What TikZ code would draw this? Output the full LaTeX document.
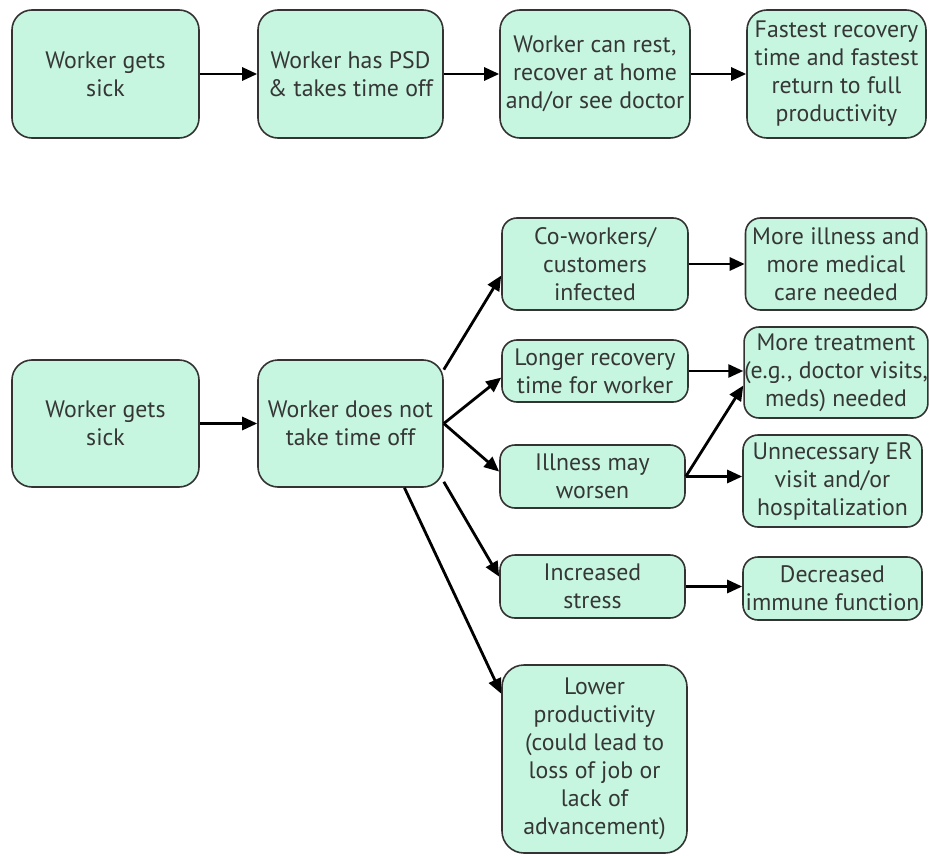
\documentclass[tikz,border=0pt]{standalone}
\usepackage{fontspec}
\setmainfont{PT Sans}
\usetikzlibrary{arrows.meta}
\definecolor{boxfill}{HTML}{C6F6E0}
\definecolor{boxline}{HTML}{333333}
\definecolor{textgray}{HTML}{363636}
\begin{document}
\begin{tikzpicture}[
  box/.style={draw=boxline, line width=1.6pt, fill=boxfill, rounded corners=#1,
    align=center, inner sep=0pt, text=textgray,
    font=\fontsize{23.8}{28}\selectfont},
  box/.default=15pt,
  arr/.style={line width=2.8pt, -{Triangle[length=15pt,width=13pt]}}
]
\useasboundingbox (0,0) rectangle (929pt,-856pt);
% top row
\node[box=20pt, minimum width=187pt, minimum height=128pt] (A1) at (105.5pt,-74pt) {Worker gets\\sick};
\node[box=20pt, minimum width=185pt, minimum height=128pt] (A2) at (350.5pt,-74pt) {Worker has PSD\\\& takes time off};
\node[box=20pt, minimum width=190pt, minimum height=128pt] (A3) at (595pt,-74pt) {Worker can rest,\\recover at home\\and/or see doctor};
\node[box=20pt, minimum width=179pt, minimum height=128pt] (A4) at (836.5pt,-74pt) {Fastest recovery\\time and fastest\\return to full\\productivity};
% bottom
\node[box=20pt, minimum width=187pt, minimum height=127pt] (B1) at (105.5pt,-423.5pt) {Worker gets\\sick};
\node[box=20pt, minimum width=185pt, minimum height=127pt] (B2) at (350.5pt,-423.5pt) {Worker does not\\take time off};
\node[box, minimum width=186pt, minimum height=92pt] (C1) at (595pt,-264pt) {Co-workers/\\customers\\infected};
\node[box, minimum width=181pt, minimum height=92pt] (D1) at (836pt,-264pt) {More illness and\\more medical\\care needed};
\node[box, minimum width=186pt, minimum height=62pt] (C2) at (595pt,-371pt) {Longer recovery\\time for worker};
\node[box, minimum width=181pt, minimum height=91pt] (D2) at (836pt,-372.5pt) {More treatment\\(e.g., doctor visits,\\meds) needed};
\node[box, minimum width=185pt, minimum height=63pt] (C3) at (592.5pt,-476.5pt) {Illness may\\worsen};
\node[box, minimum width=179pt, minimum height=92pt] (D3) at (832.5pt,-481pt) {Unnecessary ER\\visit and/or\\hospitalization};
\node[box, minimum width=185pt, minimum height=63pt] (C4) at (592.5pt,-586.5pt) {Increased\\stress};
\node[box, minimum width=179pt, minimum height=63pt] (D4) at (832.5pt,-588.5pt) {Decreased\\immune function};
\node[box=22pt, minimum width=185pt, minimum height=188pt] (C5) at (594.5pt,-759pt) {Lower\\productivity\\(could lead to\\loss of job or\\lack of\\advancement)};
% connectors
\draw[arr] (A1) -- (A2);
\draw[arr] (A2) -- (A3);
\draw[arr] (A3) -- (A4);
\draw[arr] (B1) -- (B2);
\draw[arr] (B2.30) -- (C1.187);
\draw[arr] (B2.east) -- (C2.184);
\draw[arr] (B2.east) -- (C3.177);
\draw[arr] (B2.-32) -- (C4.174);
\draw[arr] (B2.-50) -- (C5.145);
\draw[arr] (C1) -- (D1);
\draw[arr] (C2.east) -- (C2.east -| D2.west);
\draw[arr] (C3.east) -- (D2.188);
\draw[arr] (C3.east) -- (C3.east -| D3.west);
\draw[arr] (C4.east) -- (C4.east -| D4.west);
\end{tikzpicture}
\end{document}
